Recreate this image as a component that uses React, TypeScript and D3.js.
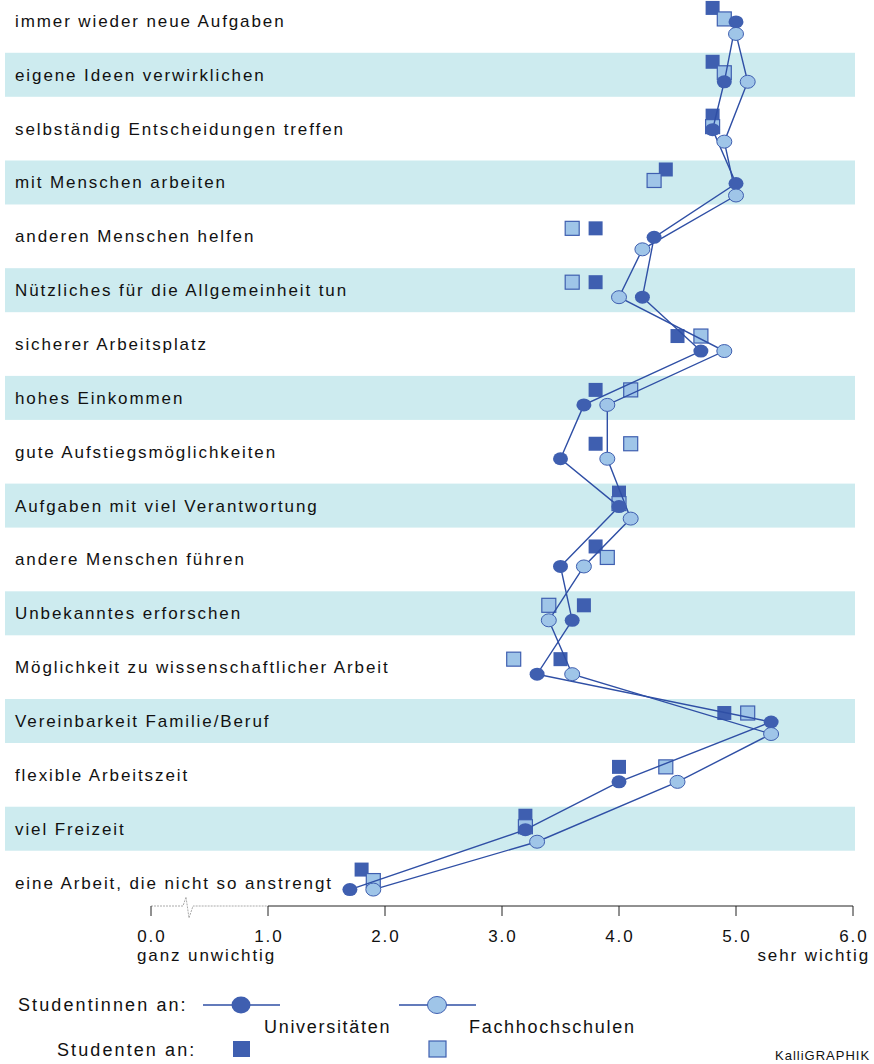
import * as d3 from 'd3';

// Werte (Mittelwerte, Skala 0 = ganz unwichtig … 6 = sehr wichtig)
const ITEMS = [
  'immer wieder neue Aufgaben',
  'eigene Ideen verwirklichen',
  'selbständig Entscheidungen treffen',
  'mit Menschen arbeiten',
  'anderen Menschen helfen',
  'Nützliches für die Allgemeinheit tun',
  'sicherer Arbeitsplatz',
  'hohes Einkommen',
  'gute Aufstiegsmöglichkeiten',
  'Aufgaben mit viel Verantwortung',
  'andere Menschen führen',
  'Unbekanntes erforschen',
  'Möglichkeit zu wissenschaftlicher Arbeit',
  'Vereinbarkeit Familie/Beruf',
  'flexible Arbeitszeit',
  'viel Freizeit',
  'eine Arbeit, die nicht so anstrengt',
];
const UNI_W = [5.0, 4.9, 4.8, 5.0, 4.3, 4.2, 4.7, 3.7, 3.5, 4.0, 3.5, 3.6, 3.3, 5.3, 4.0, 3.2, 1.7];
const FH_W = [5.0, 5.1, 4.9, 5.0, 4.2, 4.0, 4.9, 3.9, 3.9, 4.1, 3.7, 3.4, 3.6, 5.3, 4.5, 3.3, 1.9];
const UNI_M = [4.8, 4.8, 4.8, 4.4, 3.8, 3.8, 4.5, 3.8, 3.8, 4.0, 3.8, 3.7, 3.5, 4.9, 4.0, 3.2, 1.8];
const FH_M = [4.9, 4.9, 4.8, 4.3, 3.6, 3.6, 4.7, 4.1, 4.1, 4.0, 3.9, 3.4, 3.1, 5.1, 4.4, 3.2, 1.9];
const TICKS = [0, 1, 2, 3, 4, 5, 6];

const W = 874, H = 1064;
const DARK = '#3f5fb0', LIGHT = '#9fc5e8', LINE = '#2f4fa5', BAND = '#cdebef';
const FONT = '"Liberation Sans", Arial, sans-serif';
const LS = 1.9; // wide letter spacing of the original lettering

const x = d3.scaleLinear().domain([0, 6]).range([151, 853]);
const yBand = d3.scaleBand<number>().domain(d3.range(ITEMS.length)).range([-6, 909.5]);
const cy = (i: number) => yBand(i)! + yBand.bandwidth() / 2;

// vertical arrangement inside a row: squares above circles, overlapping pairs split
function layout(i: number) {
  const c = cy(i);
  const circSplit = Math.abs(x(UNI_W[i]) - x(FH_W[i])) < 15;
  const sqSplit = Math.abs(x(UNI_M[i]) - x(FH_M[i])) < 14;
  return {
    dc: c + 7 + (circSplit ? -6 : 0),
    lc: c + 7 + (circSplit ? 6 : 0),
    ds: c - 8 + (sqSplit ? -5 : 0),
    ls: c - 8 + (sqSplit ? 6 : 0),
  };
}

export default function App() {
  const rows = ITEMS.map((_, i) => layout(i));
  const line = d3.line<[number, number]>();
  const darkPath = line(UNI_W.map((v, i) => [x(v), rows[i].dc]));
  const lightPath = line(FH_W.map((v, i) => [x(v), rows[i].lc]));
  const axisY = 906;
  const sq = 14;

  return (
    <svg width={W} height={H} style={{ position: 'absolute', left: 0, top: 0, fontFamily: FONT }}>
      <rect width={W} height={H} fill="#fff" />
      {ITEMS.map((_, i) => i % 2 === 1 ? (
        <rect key={'b' + i} x={5} y={cy(i) - 22} width={850} height={44} fill={BAND} />
      ) : null)}
      {ITEMS.map((t, i) => (
        <text key={'t' + i} x={15} y={cy(i) + 6} fontSize={17} letterSpacing={LS} fill="#111">{t}</text>
      ))}

      {/* axis with break between 0 and 1 */}
      <path d={`M${x(0)},${axisY}H183L186,897L189,918L193,${axisY}H${x(1)}`} fill="none" stroke="#aaa" strokeWidth={1} strokeDasharray="2 1" />
      <line x1={x(1)} x2={x(6)} y1={axisY} y2={axisY} stroke="#222" strokeWidth={1} />
      {TICKS.map(t => (
        <g key={'k' + t}>
          <line x1={x(t)} x2={x(t)} y1={axisY} y2={axisY + 10} stroke="#222" strokeWidth={1} />
          <text x={x(t) + LS / 2} y={axisY + 36} textAnchor="middle" fontSize={17} letterSpacing={LS} fill="#111">{t.toFixed(1)}</text>
        </g>
      ))}
      <text x={137} y={axisY + 55} fontSize={17} letterSpacing={LS} fill="#111">ganz unwichtig</text>
      <text x={870} y={axisY + 55} textAnchor="end" fontSize={17} letterSpacing={LS} fill="#111">sehr wichtig</text>

      {/* men: squares */}
      {UNI_M.map((v, i) => (
        <rect key={'ds' + i} x={x(v) - sq / 2} y={rows[i].ds - sq / 2} width={sq} height={sq} fill={DARK} />
      ))}
      {FH_M.map((v, i) => (
        <rect key={'ls' + i} x={x(v) - sq / 2} y={rows[i].ls - sq / 2} width={sq} height={sq} fill={LIGHT} stroke={DARK} strokeWidth={1.2} />
      ))}

      {/* women: lines + circles */}
      <path d={darkPath ?? ''} fill="none" stroke={LINE} strokeWidth={1.4} />
      <path d={lightPath ?? ''} fill="none" stroke={LINE} strokeWidth={1.4} />
      {UNI_W.map((v, i) => (
        <ellipse key={'dc' + i} cx={x(v)} cy={rows[i].dc} rx={7.5} ry={6.5} fill={DARK} />
      ))}
      {FH_W.map((v, i) => (
        <ellipse key={'lc' + i} cx={x(v)} cy={rows[i].lc} rx={7.5} ry={6.5} fill={LIGHT} stroke={DARK} strokeWidth={1} />
      ))}

      {/* legend */}
      <g fontSize={18} letterSpacing={2.1} fill="#111">
        <text x={18} y={1011}>Studentinnen an:</text>
        <text x={264} y={1033} letterSpacing={1.7}>Universitäten</text>
        <text x={469} y={1033} letterSpacing={1.7}>Fachhochschulen</text>
        <text x={57} y={1056}>Studenten an:</text>
      </g>
      <line x1={203} x2={280} y1={1005} y2={1005} stroke={LINE} strokeWidth={1.4} />
      <ellipse cx={241} cy={1005} rx={9.5} ry={8.5} fill={DARK} />
      <line x1={399} x2={476} y1={1005} y2={1005} stroke={LINE} strokeWidth={1.4} />
      <ellipse cx={437} cy={1005} rx={9.5} ry={8.5} fill={LIGHT} stroke={DARK} strokeWidth={1} />
      <rect x={233} y={1041} width={17} height={16} fill={DARK} />
      <rect x={429} y={1041} width={17} height={16} fill={LIGHT} stroke={DARK} strokeWidth={1.2} />
      <text x={775} y={1060} fontSize={13} letterSpacing={1} fill="#111">KalliGRAPHIK</text>
    </svg>
  );
}
